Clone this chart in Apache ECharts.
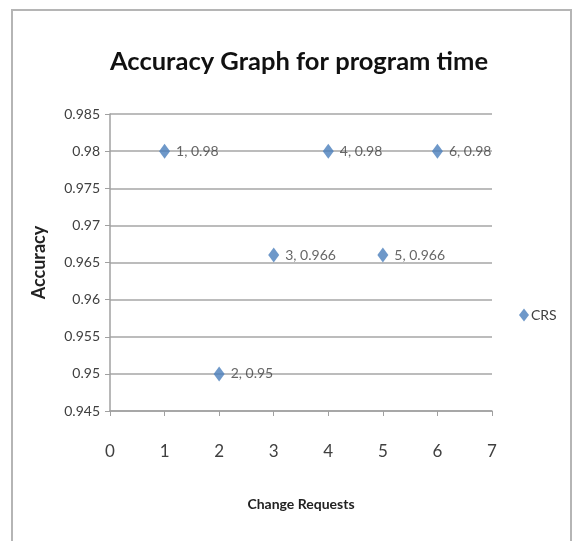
<!DOCTYPE html>
<html>
<head>
<meta charset="utf-8">
<script src="https://cdn.jsdelivr.net/npm/echarts@6/dist/echarts.min.js"></script>
<style>
html,body{margin:0;padding:0;background:#fff;}
#chart{width:576px;height:541px;}
</style>
</head>
<body>
<div id="chart"></div>
<script>
const seriesName = 'CRS';
const changeRequests = [1, 2, 3, 4, 5, 6];
const accuracy = [0.98, 0.95, 0.966, 0.98, 0.966, 0.98];
const xTicks = [0, 1, 2, 3, 4, 5, 6, 7];
const yTicks = [0.945, 0.95, 0.955, 0.96, 0.965, 0.97, 0.975, 0.98, 0.985];

const FONT = 'Lato, "Open Sans", sans-serif';
const fmt = v => String(parseFloat(Number(v).toFixed(3)));

const chart = echarts.init(document.getElementById('chart'), null, {renderer: 'canvas'});
chart.setOption({
  backgroundColor: '#ffffff',
  animation: false,
  textStyle: {fontFamily: FONT},
  title: {
    text: 'Accuracy Graph for program time',
    left: 294, top: 44, textAlign: 'center',
    textStyle: {fontFamily: FONT, fontSize: 25.5, fontWeight: 'bold', color: '#111'}
  },
  legend: {
    data: [seriesName], left: 514, top: 303, icon: 'diamond',
    itemWidth: 10, itemHeight: 13, itemGap: 4,
    textStyle: {fontFamily: FONT, fontSize: 14, color: '#404040', padding: [0,0,0,-3]}
  },
  grid: {left: 110, right: 84, top: 114, bottom: 130},
  xAxis: {
    type: 'value', min: xTicks[0], max: xTicks[xTicks.length - 1], interval: 1,
    name: 'Change Requests', nameLocation: 'middle', nameGap: 86,
    nameTextStyle: {fontFamily: FONT, fontSize: 14, fontWeight: 'bold', color: '#222'},
    axisLine: {show: true, lineStyle: {color: '#a0a0a0', width: 1.5}},
    axisTick: {show: true, length: 5, lineStyle: {color: '#a0a0a0'}},
    axisLabel: {fontFamily: FONT, fontSize: 17, color: '#404040', margin: 32,
      formatter: v => xTicks.includes(Math.round(v)) ? String(Math.round(v)) : ''},
    splitLine: {show: false}
  },
  yAxis: {
    type: 'value', min: yTicks[0], max: yTicks[yTicks.length - 1], interval: 0.005,
    name: 'Accuracy', nameLocation: 'middle', nameGap: 62, nameRotate: 90,
    nameTextStyle: {fontFamily: FONT, fontSize: 18, fontWeight: 'bold', color: '#222'},
    axisLine: {show: true, lineStyle: {color: '#a0a0a0', width: 1.5}},
    axisTick: {show: true, length: 5, lineStyle: {color: '#a0a0a0'}},
    axisLabel: {fontFamily: FONT, fontSize: 14, color: '#404040', margin: 10, formatter: fmt},
    splitLine: {show: true, lineStyle: {color: '#a6a6a6', width: 1.5}}
  },
  series: [{
    name: seriesName, type: 'scatter',
    symbol: 'diamond', symbolSize: [11, 15],
    itemStyle: {color: '#4a7ebb'},
    data: changeRequests.map((x, i) => [x, accuracy[i]]),
    label: {
      show: true, position: 'right', distance: 6,
      fontFamily: FONT, fontSize: 14, color: '#404040',
      formatter: p => p.value[0] + ', ' + fmt(p.value[1])
    }
  }],
  graphic: [{
    type: 'rect', silent: true, z: -1,
    shape: {x: 12, y: 10, width: 559, height: 540},
    style: {fill: 'none', stroke: '#b5b5b5', lineWidth: 2}
  }]
});
</script>
</body>
</html>
